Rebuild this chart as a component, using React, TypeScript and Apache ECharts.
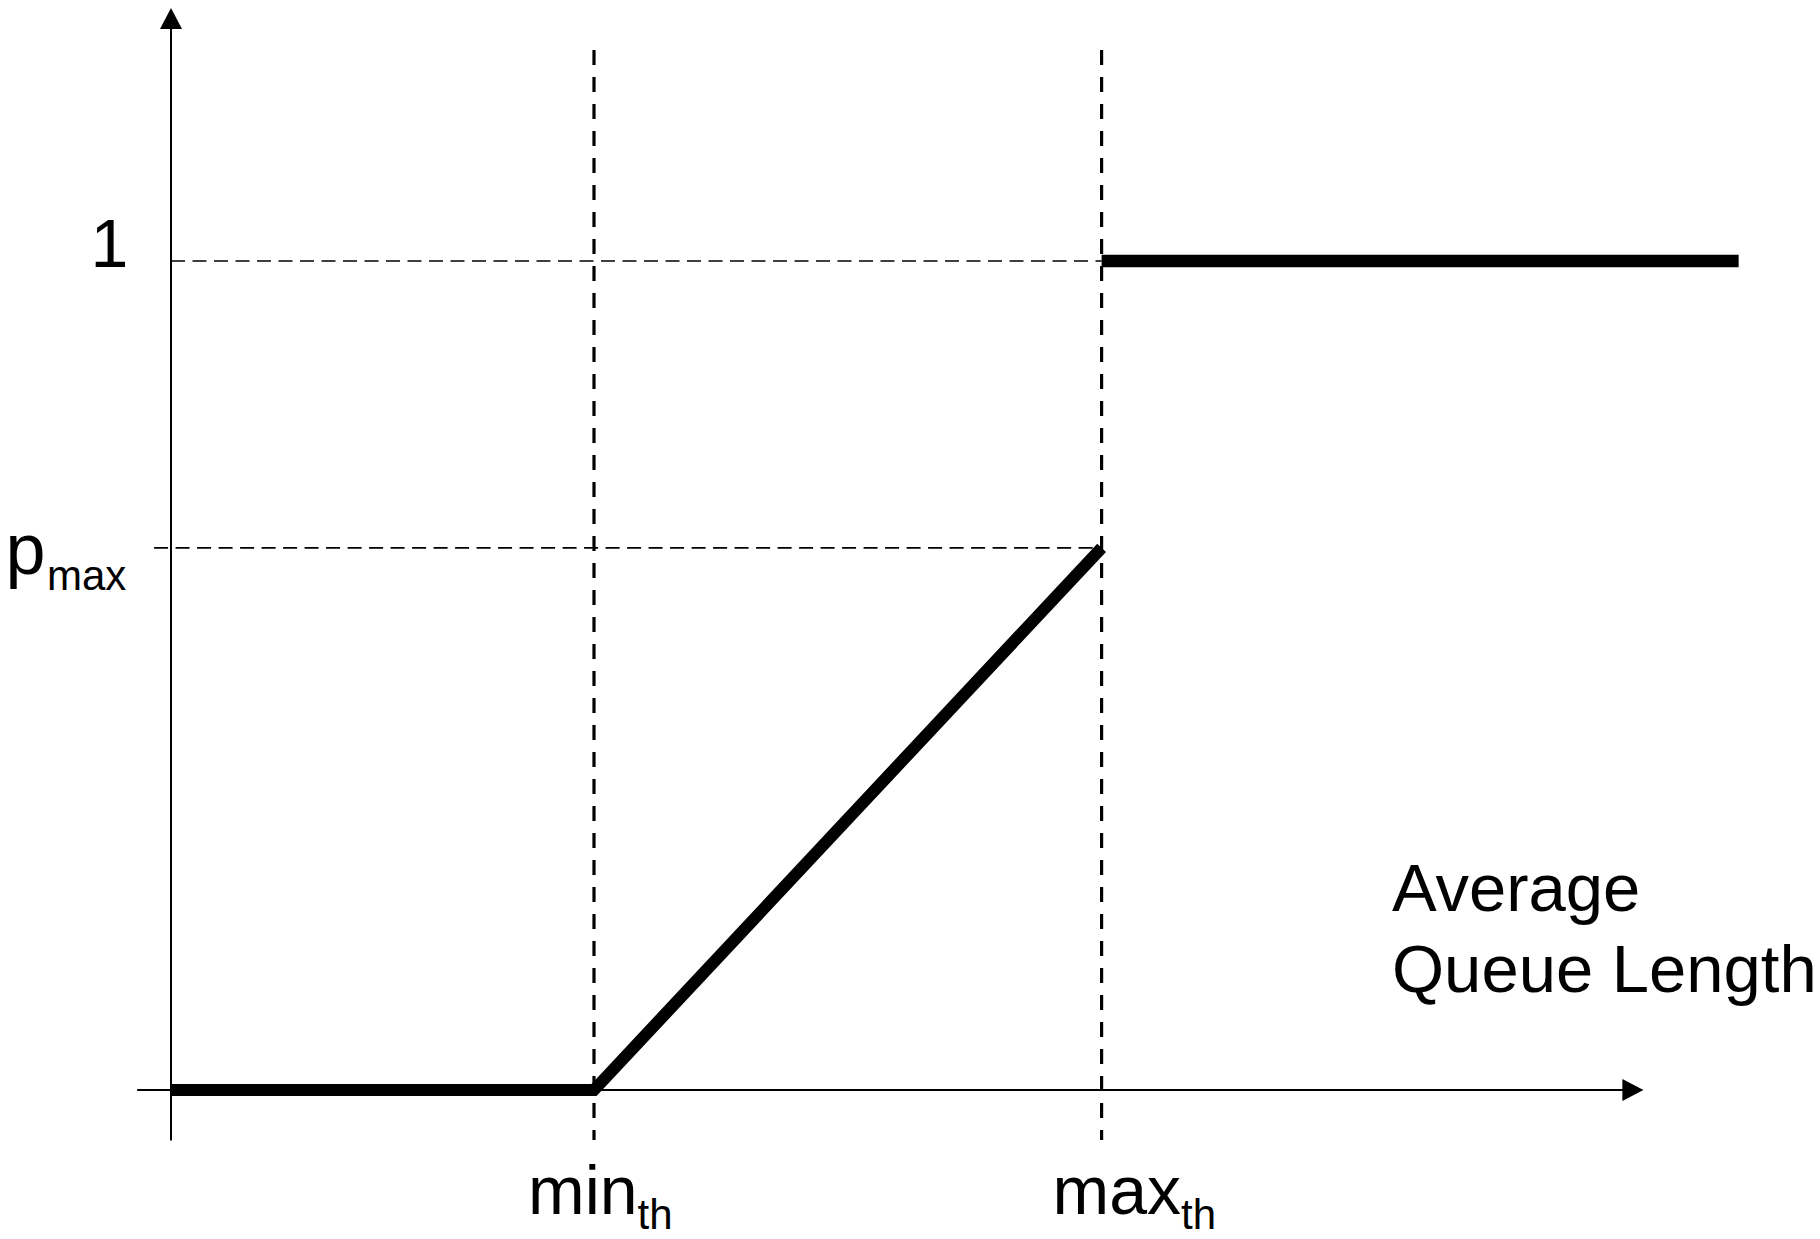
import React, { useEffect, useRef } from 'react';
import * as echarts from 'echarts';

// ---- data ----
const minTh = 5;
const maxTh = 11;
const pMax = 0.654;
const queueEnd = 18.53;
const rampCurve: [number, number][] = [[0, 0], [minTh, 0], [maxTh, pMax]];
const fullDrop: [number, number][] = [[maxTh, 1], [queueEnd, 1]];
const thresholdLabels = ['min', 'max'];
const thresholdValues = [minTh, maxTh];
const subscript = 'th';
const yLabelOne = '1';
const yLabelP = 'p';
const yLabelPSub = 'max';
const axisTitle = ['Average', 'Queue Length'];

// axis extents (data units)
const xAxisStart = -0.4;
const xArrowAt = 17.28;
const yAxisBottom = -0.061;
const yArrowAt = 1.2925;
const yAxisTop = 1.28;
const dashTop = 1.2545;
const dashBottom = -0.0603;
const pDashStart = -0.2;

const FONT = 'Arial';

function textWidth(t: string, size: number): number {
  const c = document.createElement('canvas').getContext('2d');
  if (!c) return t.length * size * 0.55;
  c.font = `${size}px ${FONT}`;
  return c.measureText(t).width;
}

export default function App() {
  const ref = useRef<HTMLDivElement>(null);
  useEffect(() => {
    if (!ref.current) return;
    const chart = echarts.init(ref.current, undefined, { renderer: 'svg' });
    const thin = { color: '#000', width: 2 };
    const option: any = {
      animation: false,
      backgroundColor: '#fff',
      grid: { left: 128.7, right: 41.6, top: 4.0, bottom: 66.1 },
      xAxis: {
        type: 'value', min: -0.5, max: 19,
        axisLine: { show: false }, axisTick: { show: false }, axisLabel: { show: false }, splitLine: { show: false },
      },
      yAxis: {
        type: 'value', min: -0.1, max: 1.31,
        axisLine: { show: false }, axisTick: { show: false }, axisLabel: { show: false }, splitLine: { show: false },
      },
      series: [
        // y axis
        { type: 'line', clip: false, symbol: 'none', silent: true, lineStyle: thin, data: [[0, yAxisBottom], [0, yAxisTop]] },
        // x axis
        { type: 'line', clip: false, symbol: 'none', silent: true, lineStyle: thin, data: [[xAxisStart, 0], [xArrowAt, 0]] },
        // arrows
        { type: 'scatter', clip: false, silent: true, symbol: 'triangle', symbolSize: [22, 21], itemStyle: { color: '#000', opacity: 1 }, data: [[0, yArrowAt]] },
        { type: 'scatter', clip: false, silent: true, symbol: 'triangle', symbolSize: [22, 21], symbolRotate: -90, itemStyle: { color: '#000', opacity: 1 }, data: [[xArrowAt, 0]] },
        // threshold dashed verticals
        ...thresholdValues.map((v) => ({
          type: 'line', clip: false, symbol: 'none', silent: true,
          lineStyle: { color: '#000', width: 3.2, type: [15, 12] },
          data: [[v, dashTop], [v, dashBottom]],
        })),
        // horizontal dashed guides
        { type: 'line', clip: false, symbol: 'none', silent: true, lineStyle: { color: '#000', width: 1.6, type: [14, 7.5] }, data: [[0, 1], [maxTh, 1]] },
        { type: 'line', clip: false, symbol: 'none', silent: true, lineStyle: { color: '#000', width: 1.6, type: [14, 7.5] }, data: [[pDashStart, pMax], [maxTh, pMax]] },
        // drop probability curve
        { type: 'line', clip: false, symbol: 'none', silent: true, lineStyle: { color: '#000', width: 12, cap: 'butt', join: 'miter' }, data: rampCurve },
        { type: 'line', clip: false, symbol: 'none', silent: true, lineStyle: { color: '#000', width: 12.5, cap: 'butt' }, data: fullDrop },
      ],
    };
    chart.setOption(option);

    const px = (x: number, y: number) => chart.convertToPixel({ gridIndex: 0 }, [x, y]) as number[];
    const F = 68;
    const S = 42;
    const mid = (baseline: number, size: number) => baseline - 0.3465 * size;
    const txt = (text: string, x: number, baseline: number, size: number, align = 'left') => ({
      type: 'text', x, y: mid(baseline, size), silent: true,
      style: { text, fontSize: size, fontFamily: FONT, fill: '#000', align, verticalAlign: 'middle' },
    });
    const graphics: any[] = [];
    const p1 = px(0, 1);
    graphics.push(txt(yLabelOne, 128.4, p1[1] + 6, F, 'right'));
    const pp = px(0, pMax);
    graphics.push(txt(yLabelP, 5.5, pp[1] + 26, 72));
    graphics.push(txt(yLabelPSub, 47, pp[1] + 42, S));
    const zeroY = px(0, 0)[1];
    thresholdValues.forEach((v, i) => {
      const p = px(v, 0);
      const x0 = p[0] - (i === 0 ? 66 : 49);
      const w = textWidth(thresholdLabels[i], F);
      graphics.push(txt(thresholdLabels[i], x0, zeroY + 124, F));
      graphics.push(txt(subscript, x0 + w, zeroY + 139, S));
    });
    graphics.push(txt(axisTitle[0], 1392, 911, 67));
    graphics.push(txt(axisTitle[1], 1392, 992, 67));
    chart.setOption({ graphic: graphics });

    return () => chart.dispose();
  }, []);
  return <div ref={ref} style={{ position: 'absolute', left: 0, top: 0, width: 1820, height: 1239 }} />;
}
